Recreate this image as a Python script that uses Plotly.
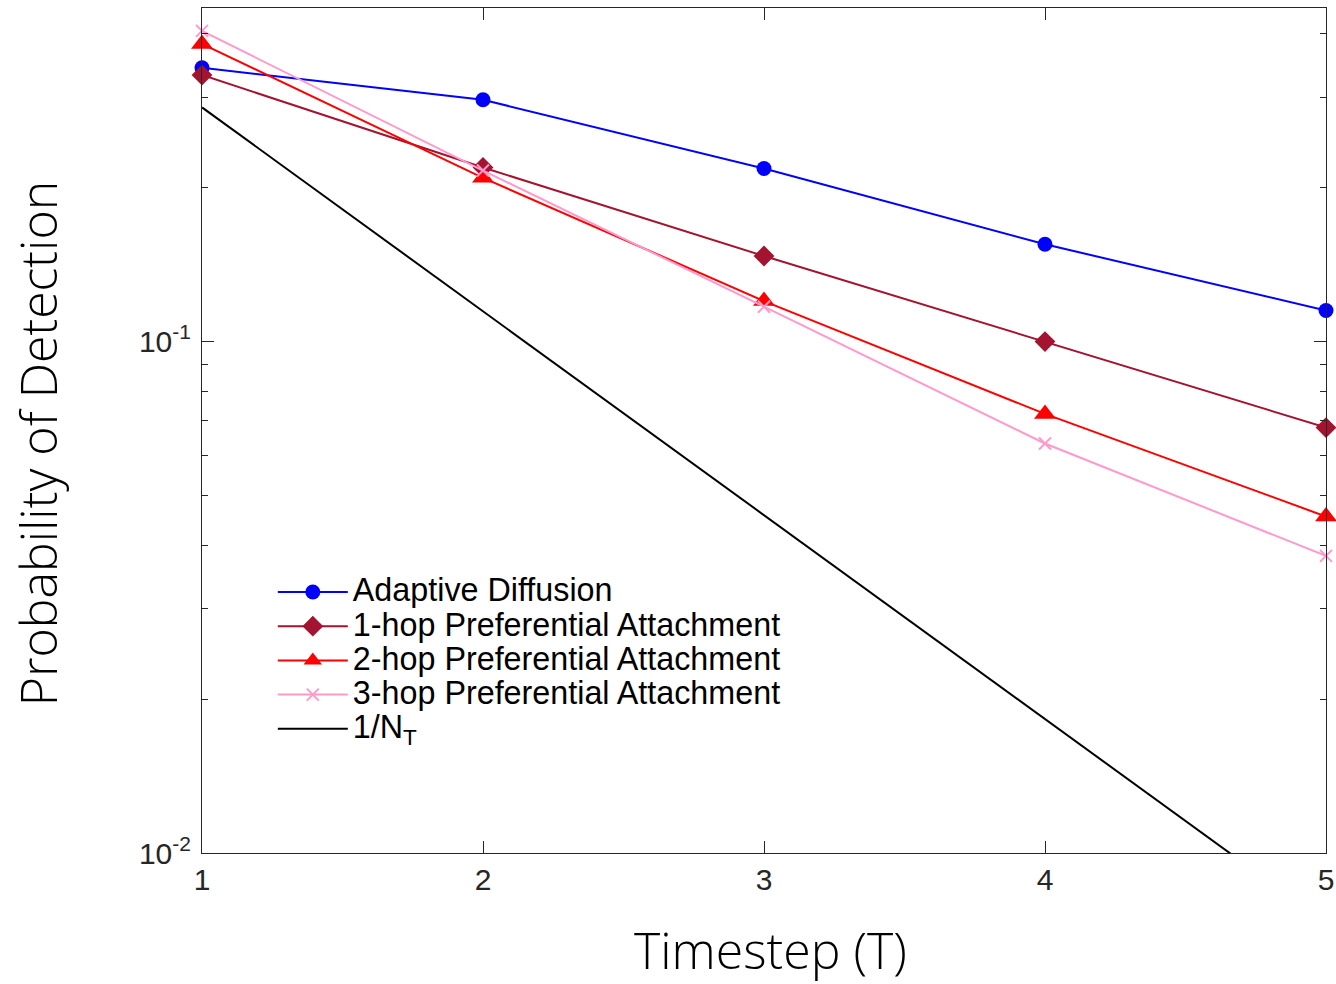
import plotly.graph_objects as go
import numpy as np

timesteps = [1, 2, 3, 4, 5]
adaptive = [0.343, 0.297, 0.218, 0.155, 0.115]
hop1 = [0.332, 0.219, 0.147, 0.100, 0.0679]
hop2 = [0.382, 0.209, 0.120, 0.0722, 0.0455]
hop3 = [0.405, 0.216, 0.117, 0.0632, 0.0381]
inv_nt = [0.287, 0.1145, 0.0457, 0.0183, 0.0073]

names = ["Adaptive Diffusion", "1-hop Preferential Attachment",
         "2-hop Preferential Attachment", "3-hop Preferential Attachment",
         "1/N<sub>T</sub>"]

LEG_SPAN = "<span style='font-size:32.3px'>{}</span>"

fig = go.Figure()
fig.add_trace(go.Scatter(x=timesteps, y=adaptive, name=LEG_SPAN.format(names[0]), mode="lines+markers",
                         line=dict(color="#0000FF", width=2),
                         marker=dict(symbol="circle", size=15, color="#0000FF"), cliponaxis=False))
fig.add_trace(go.Scatter(x=timesteps, y=hop1, name=LEG_SPAN.format(names[1]), mode="lines+markers",
                         line=dict(color="#A2142F", width=2),
                         marker=dict(symbol="diamond", size=16, color="#A2142F"), cliponaxis=False))
fig.add_trace(go.Scatter(x=timesteps, y=hop2, name=LEG_SPAN.format(names[2]), mode="lines+markers",
                         line=dict(color="#FF0000", width=2),
                         marker=dict(symbol="triangle-up", size=19, color="#FF0000"), cliponaxis=False))
fig.add_trace(go.Scatter(x=timesteps, y=hop3, name=LEG_SPAN.format(names[3]), mode="lines+markers",
                         line=dict(color="#FF99CC", width=2),
                         marker=dict(symbol="x-thin", size=12, color="#FF99CC",
                                     line=dict(color="#FF99CC", width=2)), cliponaxis=False))
fig.add_trace(go.Scatter(x=timesteps, y=inv_nt, name=LEG_SPAN.format(names[4]), mode="lines",
                         line=dict(color="#000000", width=2)))

axis_color = "#262626"
tick_font = dict(family="Liberation Sans, Arial, sans-serif", size=30, color="#262626")
title_font = dict(family="Open Sans, sans-serif", size=50, color="#000000", weight=300)

fig.update_layout(
    width=1336, height=984, autosize=False,
    margin=dict(l=201.5, r=9.5, t=8, b=130.5),
    paper_bgcolor="white", plot_bgcolor="white",
    showlegend=True,
    legend=dict(x=0.063, y=0.335, xanchor="left", yanchor="top",
                bgcolor="rgba(0,0,0,0)", borderwidth=0,
                font=dict(family="Liberation Sans, Arial, sans-serif", size=24, color="#000000"),
                itemwidth=70, tracegroupgap=0),
    xaxis=dict(range=[1, 5], tickvals=timesteps, ticktext=[str(t) for t in timesteps],
               automargin=False,
               showgrid=False, zeroline=False, showline=True, linecolor=axis_color, linewidth=1,
               mirror="allticks", ticks="inside", ticklen=12, tickcolor=axis_color,
               tickfont=tick_font),
    yaxis=dict(type="log", range=[-2, np.log10(0.449)],
               tickvals=[0.01, 0.1], ticktext=["10<sup>-2</sup>", "10<sup>-1</sup>"],
               automargin=False,
               showgrid=False, zeroline=False, showline=True, linecolor=axis_color, linewidth=1,
               mirror="allticks", ticks="inside", ticklen=12, tickcolor=axis_color,
               tickfont=tick_font, ticklabelstandoff=4,
               minor=dict(tickvals=[0.02, 0.03, 0.04, 0.05, 0.06, 0.07, 0.08, 0.09,
                                    0.2, 0.3, 0.4],
                          ticks="inside", ticklen=6, tickcolor=axis_color, showgrid=False)),
    annotations=[
        dict(text="Timestep (T)", xref="paper", yref="paper", x=0.506, y=-0.0727,
             xanchor="center", yanchor="top", showarrow=False, font=title_font),
        dict(text="Probability of Detection", xref="paper", yref="paper", x=-0.1458, y=0.485,
             xanchor="center", yanchor="middle", textangle=-90, showarrow=False, font=title_font),
    ],
)

fig.write_html("out.html",
               config={"responsive": False, "displayModeBar": False},
               post_script="document.body.style.margin='0';document.body.style.overflow='hidden';")
